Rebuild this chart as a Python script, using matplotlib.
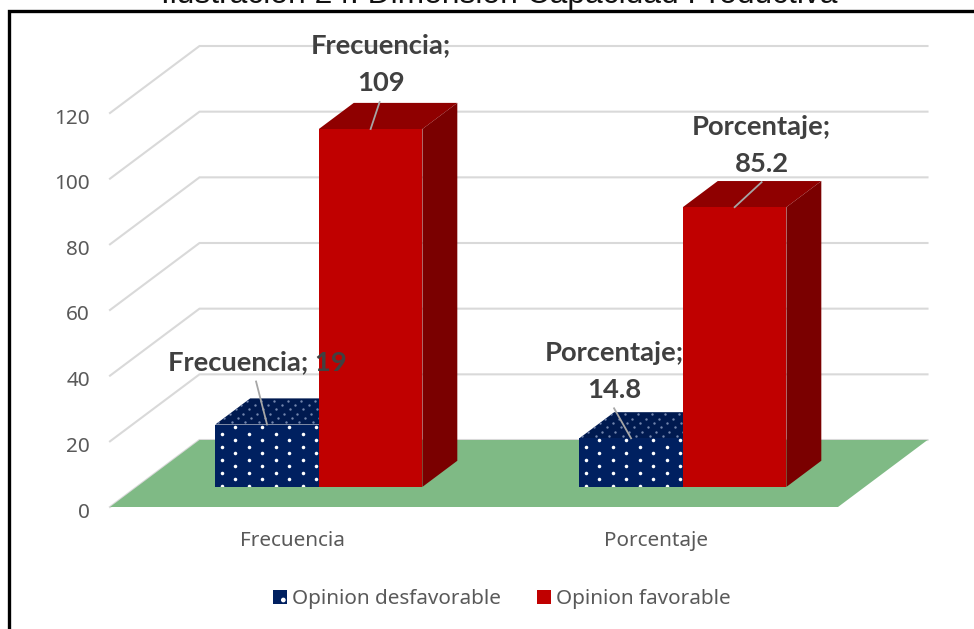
import numpy as np
import matplotlib
matplotlib.use("Agg")
import matplotlib.pyplot as plt
from matplotlib.patches import Polygon, Patch
from matplotlib.lines import Line2D
from matplotlib.transforms import ScaledTranslation

categories = ["Frecuencia", "Porcentaje"]
desfavorable = [19, 14.8]
favorable = [109, 85.2]
series_names = ["Opinion desfavorable", "Opinion favorable"]
y_ticks = [0, 20, 40, 60, 80, 100, 120]
title = "Ilustración 24. Dimensión Capacidad Productiva"

W, H = 974, 629
fig = plt.figure(figsize=(W / 100, H / 100), dpi=100, facecolor="white")
L, R, B, T = 110, 838, 507, 113
ax = fig.add_axes([L / W, (H - B) / H, (R - L) / W, (B - T) / H])
ax.set_xlim(-0.5, 1.5)
ax.set_ylim(0, 120)
for s in ax.spines.values():
    s.set_visible(False)
ax.patch.set_alpha(0)

PXX = 2 / (R - L)
PXY = 120 / (B - T)
DX = 89.5 * PXX
DY = 67 * PXY
D0, D1 = 0.30, 0.69
BW = 0.2845


def proj(x, v, d):
    return x + d * DX, v + d * DY


def prism(x0, x1, v, front, top, side, z):
    a = [proj(x0, 0, D0), proj(x1, 0, D0), proj(x1, v, D0), proj(x0, v, D0)]
    t = [proj(x0, v, D0), proj(x1, v, D0), proj(x1, v, D1), proj(x0, v, D1)]
    s = [proj(x1, 0, D0), proj(x1, 0, D1), proj(x1, v, D1), proj(x1, v, D0)]
    pa = Polygon(a, fc=front, ec="none", zorder=z + 0.2, clip_on=False)
    pt = Polygon(t, fc=top, ec="none", zorder=z, clip_on=False)
    ps = Polygon(s, fc=side, ec="none", zorder=z + 0.1, clip_on=False)
    for p in (pt, ps, pa):
        ax.add_patch(p)
    return pa, pt


def dots(x0, x1, v, pa, pt, z):
    # pattern of white dots on the front face (staggered rows)
    sp_x, sp_y = 27 * PXX, 6.5 * PXY
    xs, ys = [], []
    for k in range(int(v / sp_y) + 1):
        vk = (k * sp_y) + 1 * PXY
        if vk > v:
            break
        start = x0 + (6.7 * PXX if k % 2 == 0 else 20.2 * PXX)
        for x in np.arange(start, x1, sp_x):
            xx, yy = proj(x, vk, D0)
            xs.append(xx)
            ys.append(yy)
    c = ax.scatter(xs, ys, s=6.5, c="white", lw=0, zorder=z + 0.3, clip_on=True)
    c.set_clip_path(pa)
    xs, ys = [], []
    nrows = 6
    for k in range(nrows):
        d = D0 + (D1 - D0) * (k + 0.5) / nrows
        start = x0 + (k % 2) * 13.5 * PXX - 27 * PXX
        for x in np.arange(start, x1, 13.5 * PXX):
            xx, yy = proj(x, v, d)
            xs.append(xx)
            ys.append(yy)
    c2 = ax.scatter(xs, ys, s=3, c="#7486ae", lw=0, zorder=z + 0.05, clip_on=True)
    c2.set_clip_path(pt)


# walls: grid lines
GRID = "#D9D9D9"
for v in y_ticks:
    p0 = proj(-0.5, v, 0)
    p1 = proj(-0.5, v, 1)
    p2 = proj(1.5, v, 1)
    ax.plot([p0[0], p1[0], p2[0]], [p0[1], p1[1], p2[1]], color=GRID, lw=1.5,
            zorder=1, clip_on=False, solid_joinstyle="miter")

# floor
floor = [proj(-0.5, 0, 0), proj(1.5, 0, 0), proj(1.5, 0, 1), proj(-0.5, 0, 1)]
ax.add_patch(Polygon(floor, fc="#7FBA85", ec="none", zorder=2, clip_on=False))

# bars
for i in range(len(categories)):
    x0, x1 = i - BW, i
    pa, pt = prism(x0, x1, desfavorable[i], "#002060", "#001A50", "#00143C", 3)
    dots(x0, x1, desfavorable[i], pa, pt, 3)
    prism(i, i + BW, favorable[i], "#C00000", "#8F0000", "#7A0000", 4)

# data labels: bar centre, value, text, leader tip offset (px), text centre offset (px)
TXT = "#404040"
label_font = dict(family="Lato", weight="bold", fontsize=19.7, color=TXT)
lbl = [
    (0 - BW / 2, desfavorable[0], f"{categories[0]}; {desfavorable[0]}", (-11, 43), (-10, 62)),
    (0 + BW / 2, favorable[0], f"{categories[0]};\n{favorable[0]}", (9, 27), (10, 65)),
    (1 - BW / 2, desfavorable[1], f"{categories[1]};\n{desfavorable[1]}", (-17, 30), (-17, 67)),
    (1 + BW / 2, favorable[1], f"{categories[1]};\n{favorable[1]}", (27, 25), (27, 62)),
]
for x, v, s, tip, tc in lbl:
    a = proj(x, v, D0)
    b = (a[0] + tip[0] * PXX, a[1] + tip[1] * PXY)
    ax.plot([a[0], b[0]], [a[1], b[1]], color="#A6A6A6", lw=1.3, zorder=6, clip_on=False)
    ax.annotate(s, xy=a, xytext=tc, textcoords="offset pixels", ha="center", va="center",
                linespacing=1.65, zorder=7, annotation_clip=False, **label_font)

# axes ticks
ax.set_yticks(y_ticks)
ax.set_xticks(range(len(categories)))
ax.set_xticklabels(categories)
ax.tick_params(axis="both", length=0, labelsize=14.9, labelcolor="#595959")
ax.tick_params(axis="y", pad=14.5)
ax.tick_params(axis="x", pad=17)
for t in ax.get_xticklabels() + ax.get_yticklabels():
    t.set_fontfamily("Noto Sans")
down = ScaledTranslation(0, -3 / 100, fig.dpi_scale_trans)
for t in ax.yaxis.get_major_ticks():
    t.label1.set_transform(t.label1.get_transform() + down)

# legend
handles = [Patch(fc="#002060", ec="white", hatch=".", lw=0), Patch(fc="#C00000", ec="none")]
fig.legend(handles, series_names, loc="center", bbox_to_anchor=(501.5 / W, (H - 599) / H),
           ncol=2, frameon=False, handlelength=0.68, handleheight=0.68, handletextpad=0.24,
           columnspacing=1.74, prop=dict(family="Noto Sans", size=14.9), labelcolor="#595959")

# title (cut off by the upper edge) and outer frame
fig.text(499 / W, (H - 3) / H, title, ha="center", va="baseline", fontsize=22.9,
         family="Liberation Sans", color="#111111")
fig.add_artist(Line2D([8.5 / W, 8.5 / W, 1], [0, (H - 11) / H, (H - 11) / H], color="black",
                      lw=2.4, solid_joinstyle="miter"))

fig.savefig("out.png", dpi=100)
